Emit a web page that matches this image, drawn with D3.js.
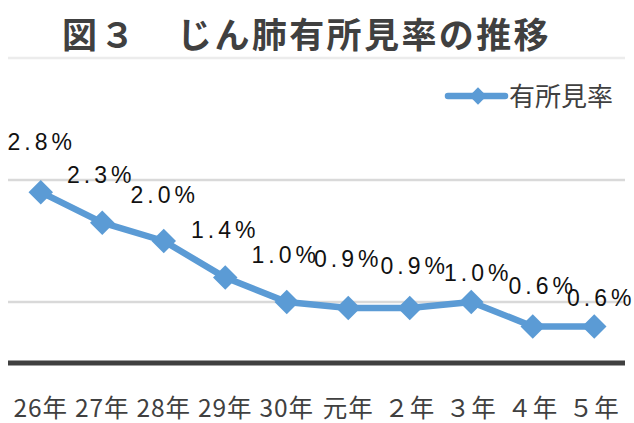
<!DOCTYPE html>
<html>
<head>
  <meta charset="utf-8" />
  <title>図３ じん肺有所見率の推移</title>
  <script src="https://cdn.jsdelivr.net/npm/d3@7"></script>
  <style>
    body { margin: 0; background: #fff; }
    svg { display: block; }
  </style>
</head>
<body>
  <svg id="chart" width="634" height="423"></svg>
  <script>
    // data
    const years = ["26年", "27年", "28年", "29年", "30年", "元年", "２年", "３年", "４年", "５年"];
    const rates = [2.8, 2.3, 2.0, 1.4, 1.0, 0.9, 0.9, 1.0, 0.6, 0.6];
    const gridTicks = [1, 3, 5];
    const seriesName = "有所見率";

    // hand-placed data label nudges (dx, height above the point)
    const labelDx = [-1, -3, -1, -2, -3, -2, 3, 5, 8, 5];
    const labelUp = [42, 40, 38, 40, 39, 41, 34, 21, 32, 20];

    const blue = "#5b9bd5";
    const dark = "#404040";

    const svg = d3.select("#chart");

    const x = d3.scaleBand().domain(years).range([10, 625]);
    const y = d3.scaleLinear().domain([0, 5]).range([363, 58]);

    // title
    const title = svg.append("text")
      .attr("y", 48)
      .style("font-family", "'Noto Sans CJK JP'")
      .style("font-weight", "bold")
      .style("font-size", "35px")
      .attr("fill", dark);
    title.append("tspan").attr("x", 62).attr("letter-spacing", 3).text("図３");
    title.append("tspan").attr("x", 177).attr("letter-spacing", 2.4).text("じん肺有所見率の推移");

    // gridlines
    svg.selectAll(".grid")
      .data(gridTicks)
      .enter()
      .append("line")
      .attr("class", "grid")
      .attr("x1", 8)
      .attr("x2", 625)
      .attr("y1", d => y(d))
      .attr("y2", d => y(d))
      .attr("stroke", d => d === 5 ? "#ececec" : "#d9d9d9")
      .attr("stroke-width", 2.5);

    // category axis
    svg.append("line")
      .attr("x1", 8)
      .attr("x2", 625)
      .attr("y1", y(0))
      .attr("y2", y(0))
      .attr("stroke", dark)
      .attr("stroke-width", 5);

    const xAxis = svg.append("g")
      .attr("transform", `translate(0,${y(0)})`)
      .call(d3.axisBottom(x).tickSize(0).tickPadding(0));
    xAxis.select(".domain").remove();
    xAxis.selectAll("text")
      .attr("y", 54)
      .attr("dy", 0)
      .attr("fill", dark)
      .attr("letter-spacing", 1)
      .style("font-family", "'Noto Sans CJK JP'")
      .style("font-size", "24.5px");

    // series line
    const line = d3.line()
      .x((d, i) => x(years[i]) + x.bandwidth() / 2)
      .y(d => y(d));

    svg.append("path")
      .datum(rates)
      .attr("d", line)
      .attr("fill", "none")
      .attr("stroke", blue)
      .attr("stroke-width", 6.5)
      .attr("stroke-linejoin", "round");

    const diamond = d3.symbol().type(d3.symbolSquare).size(300);

    svg.selectAll(".marker")
      .data(rates)
      .enter()
      .append("path")
      .attr("class", "marker")
      .attr("d", diamond)
      .attr("fill", blue)
      .attr("transform", (d, i) =>
        `translate(${x(years[i]) + x.bandwidth() / 2},${y(d)}) rotate(45)`);

    // data labels
    svg.selectAll(".label")
      .data(rates)
      .enter()
      .append("text")
      .attr("class", "label")
      .attr("x", (d, i) => x(years[i]) + x.bandwidth() / 2 + labelDx[i] + 2)
      .attr("y", (d, i) => y(d) - labelUp[i])
      .attr("text-anchor", "middle")
      .attr("letter-spacing", 4)
      .attr("fill", "#111")
      .style("font-family", "'Liberation Sans', Arial, sans-serif")
      .style("font-size", "23px")
      .text(d => d.toFixed(1) + "%");

    // legend
    const legend = svg.append("g").attr("transform", "translate(448,96)");
    legend.append("line")
      .attr("x1", 0)
      .attr("x2", 57)
      .attr("stroke", blue)
      .attr("stroke-width", 6.5)
      .attr("stroke-linecap", "round");
    legend.append("path")
      .attr("d", d3.symbol().type(d3.symbolSquare).size(150))
      .attr("fill", blue)
      .attr("transform", "translate(30,0) rotate(45)");
    legend.append("text")
      .attr("x", 61)
      .attr("y", 10)
      .attr("fill", dark)
      .style("font-family", "'Noto Sans CJK JP'")
      .style("font-size", "26px")
      .text(seriesName);
  </script>
</body>
</html>
